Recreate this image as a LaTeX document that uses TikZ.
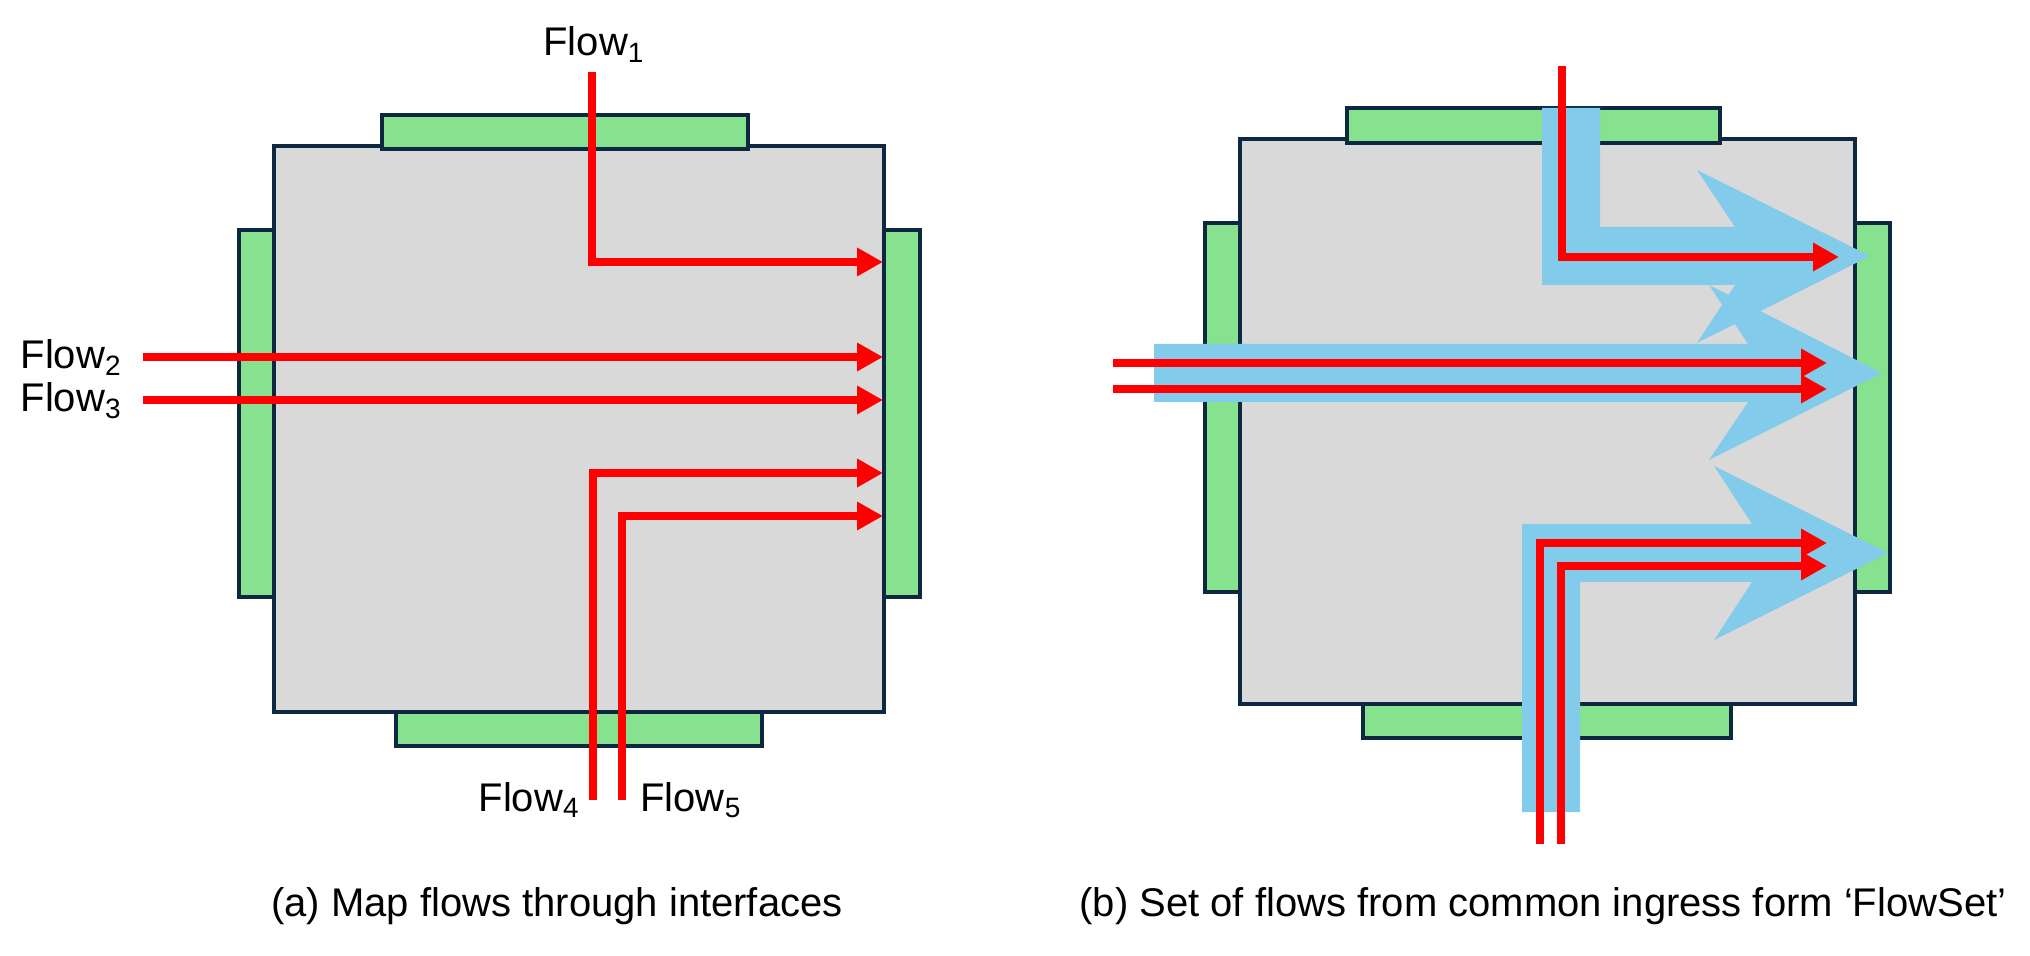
\documentclass[tikz,border=0pt]{standalone}
\usepackage{fontspec}
\setmainfont{Liberation Sans}
\usepackage{xcolor}
\usetikzlibrary{arrows.meta}
\definecolor{boxgray}{HTML}{D9D9D9}
\definecolor{tabgreen}{RGB}{134,226,143}
\definecolor{edgenavy}{HTML}{0E2841}
\definecolor{setblue}{HTML}{83CBEB}
\definecolor{flowred}{HTML}{FF0000}

\begin{document}
\begin{tikzpicture}[x=0.5pt,y=-0.5pt,
        box/.style={fill=boxgray, draw=edgenavy, line width=1.75pt},
        tab/.style={fill=tabgreen, draw=edgenavy, line width=1.75pt},
        flow/.style={draw=flowred, line width=4.25pt, -{Triangle[length=13pt,width=13.5pt]}},
        band/.style={fill=setblue},
        lbl/.style={font=\fontsize{20pt}{24pt}\selectfont, inner sep=0pt}]
        \useasboundingbox (0,0) rectangle (2030,956);

        % (a) device with its interfaces
        \path[box] (274,146) rectangle (884,712);
        \path[tab] (382,115) rectangle (748,149);
        \path[tab] (396,712) rectangle (762,746);
        \path[tab] (239,230) rectangle (274,597);
        \path[tab] (884,230) rectangle (920,597);

        \coordinate (a1in) at (592,72);
        \coordinate (a1out) at (883,262);
        \coordinate (a2in) at (143,357);
        \coordinate (a2out) at (883,357);
        \coordinate (a3in) at (143,400);
        \coordinate (a3out) at (883,400);
        \coordinate (a4in) at (593,800);
        \coordinate (a4out) at (883,473);
        \coordinate (a5in) at (622,800);
        \coordinate (a5out) at (883,516);

        \draw[flow] (a1in) |- (a1out);
        \draw[flow] (a2in) -- (a2out);
        \draw[flow] (a3in) -- (a3out);
        \draw[flow] (a4in) |- (a4out);
        \draw[flow] (a5in) |- (a5out);

        \node[lbl, anchor=base] (fa1) at (594,56) {Flow\textsubscript{1}};
        \node[lbl, anchor=base east] (fa2) at (122,369) {Flow\textsubscript{2}};
        \node[lbl, anchor=base east] (fa3) at (122,412) {Flow\textsubscript{3}};
        \node[lbl, anchor=base east] (fa4) at (580,811) {Flow\textsubscript{4}};
        \node[lbl, anchor=base west] (fa5) at (640,811) {Flow\textsubscript{5}};

        \node[lbl, anchor=base] (capa) at (557,916) {(a) Map flows through interfaces};

        % (b) same device, flows grouped by ingress
        \path[box] (1240,139) rectangle (1855,704);
        \path[tab] (1347,108) rectangle (1720,143);
        \path[tab] (1363,704) rectangle (1731,738);
        \path[tab] (1205,223) rectangle (1240,592);
        \path[tab] (1855,223) rectangle (1890,592);

        % flow sets
        \fill[band] (1542,108) -- (1600,108) -- (1600,227) -- (1735,227) -- (1697,170)
                -- (1870,256) -- (1697,343) -- (1735,285) -- (1542,285) -- cycle;
        \fill[band] (1154,344) -- (1748,344) -- (1709,285) -- (1882,373)
                -- (1709,460) -- (1748,402) -- (1154,402) -- cycle;
        \fill[band] (1522,812) -- (1522,524) -- (1752,524) -- (1714,466) -- (1888,553)
                -- (1714,640) -- (1752,582) -- (1580,582) -- (1580,812) -- cycle;

        \coordinate (b1in) at (1562,66);
        \coordinate (b1out) at (1839,257);
        \coordinate (b2in) at (1113,363);
        \coordinate (b2out) at (1827,363);
        \coordinate (b3in) at (1113,389);
        \coordinate (b3out) at (1827,389);
        \coordinate (b4in) at (1540,844);
        \coordinate (b4out) at (1827,543);
        \coordinate (b5in) at (1561,844);
        \coordinate (b5out) at (1827,566);

        \draw[flow] (b1in) |- (b1out);
        \draw[flow] (b2in) -- (b2out);
        \draw[flow] (b3in) -- (b3out);
        \draw[flow] (b4in) |- (b4out);
        \draw[flow] (b5in) |- (b5out);

        \node[lbl, anchor=base] (capb) at (1543,916) {(b) Set of flows from common ingress form ‘FlowSet’};
    \end{tikzpicture}
\end{document}
